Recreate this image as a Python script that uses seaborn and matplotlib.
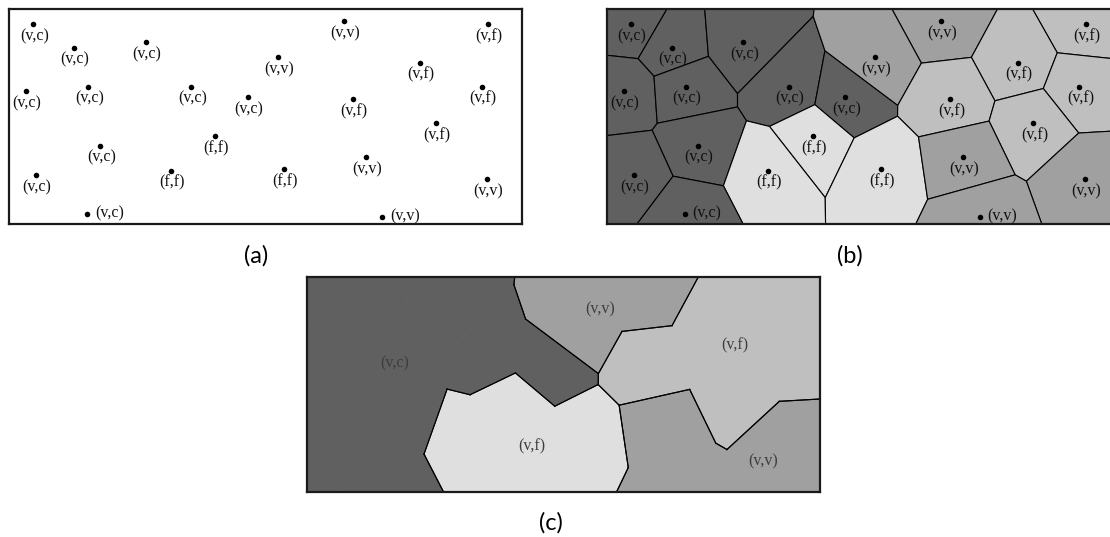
import numpy as np
import pandas as pd
import matplotlib.pyplot as plt
import seaborn as sns

# pontos (px dentro da caixa, y para baixo)
px = [24.3, 65, 136.7, 17, 79.3, 182.3, 238.7, 206, 91.3, 27, 161.7, 78.3,
      334.7, 268.7, 479.3, 411.3, 343.7, 472.7, 426.7, 274.7, 356.7, 478, 373.3]
py = [15, 38.7, 33, 82, 77.7, 77.7, 88.3, 127, 136.7, 166, 161.7, 204.7,
      12.3, 48.3, 15.3, 53.7, 90.3, 77.7, 114.3, 160.3, 148.3, 170, 207.7]
rotulos = ['(v,c)', '(v,c)', '(v,c)', '(v,c)', '(v,c)', '(v,c)', '(v,c)', '(f,f)',
           '(v,c)', '(v,c)', '(f,f)', '(v,c)', '(v,v)', '(v,v)', '(v,f)', '(v,f)',
           '(v,f)', '(v,f)', '(v,f)', '(f,f)', '(v,v)', '(v,v)', '(v,v)']
rotulo_direita = [11, 22]

# rotulos das regioes unidas em (c)
regioes_txt = ['(v,c)', '(v,v)', '(v,f)', '(v,f)', '(v,v)']
regioes_x = [87, 292.7, 427.7, 225, 456]
regioes_y = [86, 31.7, 67.7, 169.4, 184.4]

cores = {'(v,c)': '#606060', '(v,v)': '#a0a0a0', '(v,f)': '#bfbfbf', '(f,f)': '#dfdfdf'}

W, H = 512.7, 215.0

df = pd.DataFrame({'x': px, 'y': py, 'rotulo': rotulos})
pts = df[['x', 'y']].to_numpy()


def corta(poly, a, n, c):
    # mantem a parte do poligono com (p - a).n <= c
    novo = []
    for k in range(len(poly)):
        p, q = poly[k], poly[(k + 1) % len(poly)]
        fp, fq = np.dot(p - a, n) - c, np.dot(q - a, n) - c
        if fp <= 0:
            novo.append(p)
        if fp * fq < 0:
            t = fp / (fp - fq)
            novo.append(p + t * (q - p))
    return novo


def celulas(pts):
    res = []
    for i, p in enumerate(pts):
        poly = [np.array(v, float) for v in [(0, 0), (W, 0), (W, H), (0, H)]]
        for j, q in enumerate(pts):
            if i != j:
                poly = corta(poly, (p + q) / 2, q - p, 0.0)
        res.append(np.array(poly))
    return res


cels = celulas(pts)

plt.rcParams['font.family'] = ['Liberation Serif', 'DejaVu Serif']
fig = plt.figure(figsize=(11.1, 5.37), dpi=100)
ax_a = fig.add_axes([9 / 1110, 1 - 224 / 537, W / 1110, H / 537])
ax_b = fig.add_axes([606.7 / 1110, 1 - 224 / 537, W / 1110, H / 537])
ax_c = fig.add_axes([307.3 / 1110, 1 - 492.3 / 537, W / 1110, H / 537])

# (b) diagrama de voronoi
for i, poly in enumerate(cels):
    ax_b.fill(poly[:, 0], poly[:, 1], facecolor=cores[rotulos[i]],
              edgecolor='black', linewidth=0.8, zorder=1)

# (c) regioes unidas
for i, poly in enumerate(cels):
    ax_c.fill(poly[:, 0], poly[:, 1], facecolor=cores[rotulos[i]],
              edgecolor=cores[rotulos[i]], linewidth=0.6, zorder=1)
for i, poly in enumerate(cels):
    for k in range(len(poly)):
        a, b = poly[k], poly[(k + 1) % len(poly)]
        m = (a + b) / 2
        d = np.hypot(*(pts - m).T)
        viz = [j for j in range(len(pts)) if j != i and abs(d[j] - d[i]) < 1e-6]
        if viz and rotulos[viz[0]] != rotulos[i]:
            ax_c.plot([a[0], b[0]], [a[1], b[1]], color='black', lw=0.8, zorder=2)
for t, x, y in zip(regioes_txt, regioes_x, regioes_y):
    ax_c.text(x, y, t, ha='center', va='center', fontsize=11.5, color='#3d3d3d')

# pontos e rotulos em (a) e (b)
for ax in [ax_a, ax_b]:
    sns.scatterplot(data=df, x='x', y='y', ax=ax, color='black', s=16,
                    linewidth=0, legend=False, zorder=3)
    for i, r in df.iterrows():
        if i in rotulo_direita:
            ax.text(r.x + 7.5, r.y - 0.5, r.rotulo, ha='left', va='center',
                    fontsize=11.5, color='#111111')
        else:
            ax.text(r.x + 1, r.y + 12, r.rotulo, ha='center', va='center',
                    fontsize=11.5, color='#111111')

for ax in [ax_a, ax_b, ax_c]:
    ax.set_xlim(0, W)
    ax.set_ylim(H, 0)
    ax.set(xlabel='', ylabel='', xticks=[], yticks=[])
    for s in ax.spines.values():
        s.set_linewidth(1.6)
        s.set_color('#1a1a1a')

cap = dict(ha='center', va='center', fontsize=17, family=['Lato', 'DejaVu Sans'])
fig.text(256 / 1110, 1 - 256 / 537, '(a)', **cap)
fig.text(850 / 1110, 1 - 256 / 537, '(b)', **cap)
fig.text(551 / 1110, 1 - 523 / 537, '(c)', **cap)

fig.savefig('out.png', dpi=100)
